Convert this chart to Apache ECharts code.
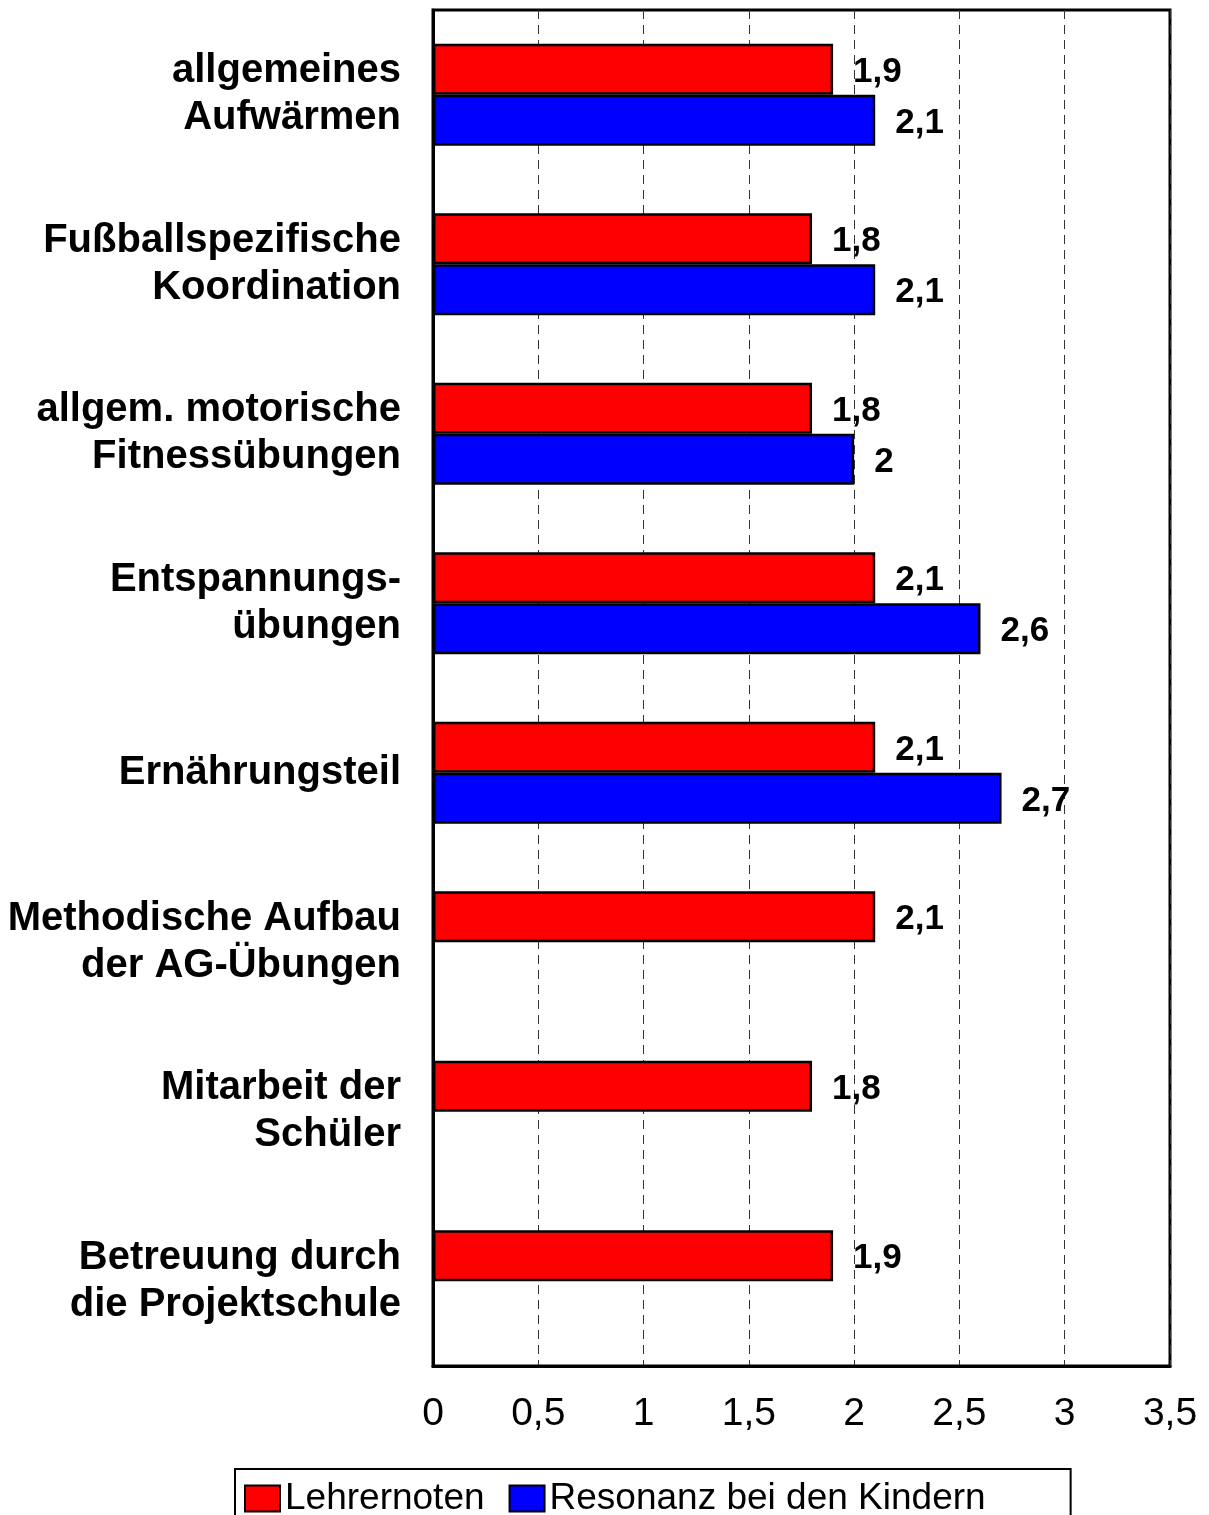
<!DOCTYPE html>
<html>
<head>
<meta charset="utf-8">
<script src="https://cdn.jsdelivr.net/npm/echarts@6/dist/echarts.min.js"></script>
<style>
  html, body { margin: 0; padding: 0; background: #fff; }
  #chart { width: 1209px; height: 1515px; }
</style>
</head>
<body>
<div id="chart"></div>
<script>
const categories = [
  "allgemeines\nAufwärmen",
  "Fußballspezifische\nKoordination",
  "allgem. motorische\nFitnessübungen",
  "Entspannungs-\nübungen",
  "Ernährungsteil",
  "Methodische Aufbau\nder AG-Übungen",
  "Mitarbeit der\nSchüler",
  "Betreuung durch\ndie Projektschule"
];
const lehrernoten = [1.9, 1.8, 1.8, 2.1, 2.1, 2.1, 1.8, 1.9];
const resonanz = [2.1, 2.1, 2.0, 2.6, 2.7, null, null, null];

const fontFamily = "'Liberation Sans', Arial, sans-serif";
const comma = (v) => String(v).replace(".", ",");

const barLabel = {
  show: true,
  position: "right",
  distance: 20,
  offset: [0, 3],
  color: "#000",
  fontSize: 35,
  fontWeight: "bold",
  fontFamily: fontFamily,
  formatter: (p) => comma(p.value)
};

const chart = echarts.init(document.getElementById("chart"));
chart.setOption({
  animation: false,
  grid: {
    left: 433, right: 39, top: 10, bottom: 149,
    show: true, borderColor: "#000", borderWidth: 3
  },
  xAxis: {
    type: "value",
    min: 0, max: 3.5, interval: 0.5,
    axisLine: { show: true, lineStyle: { color: "#000", width: 3 } },
    axisTick: { show: false },
    axisLabel: {
      margin: 29, fontSize: 39, color: "#000", fontFamily: fontFamily,
      formatter: comma
    },
    splitLine: { show: true, lineStyle: { color: "#333", width: 1, type: [9, 6] } }
  },
  yAxis: {
    type: "category",
    inverse: true,
    data: categories,
    axisLine: { show: true, lineStyle: { color: "#000", width: 3 } },
    axisTick: { show: false },
    axisLabel: {
      margin: 32, fontSize: 40, fontWeight: "bold", color: "#000",
      fontFamily: fontFamily, lineHeight: 47, align: "right",
      padding: [8, 0, 0, 0]
    }
  },
  legend: {
    left: 235, top: 1469,
    orient: "horizontal",
    padding: [11, 85, 10, 9],
    borderColor: "#000", borderWidth: 2,
    itemWidth: 35, itemHeight: 26, itemGap: 24,
    textStyle: { fontSize: 37, color: "#000", fontFamily: fontFamily },
    data: [
      { name: "Lehrernoten", icon: "rect", itemStyle: { color: "#ff0000", borderColor: "#000", borderWidth: 2 } },
      { name: "Resonanz bei den Kindern", icon: "rect", itemStyle: { color: "#0000ff", borderColor: "#000", borderWidth: 2 } }
    ]
  },
  series: [
    {
      name: "Lehrernoten",
      type: "bar",
      data: lehrernoten,
      barWidth: 51,
      barGap: "0%",
      itemStyle: { color: "#ff0000", borderColor: "#000", borderWidth: 2.5 },
      label: barLabel
    },
    {
      name: "Resonanz bei den Kindern",
      type: "bar",
      data: resonanz,
      barWidth: 51,
      barGap: "0%",
      itemStyle: { color: "#0000ff", borderColor: "#000", borderWidth: 2.5 },
      label: barLabel
    }
  ]
});
</script>
</body>
</html>
